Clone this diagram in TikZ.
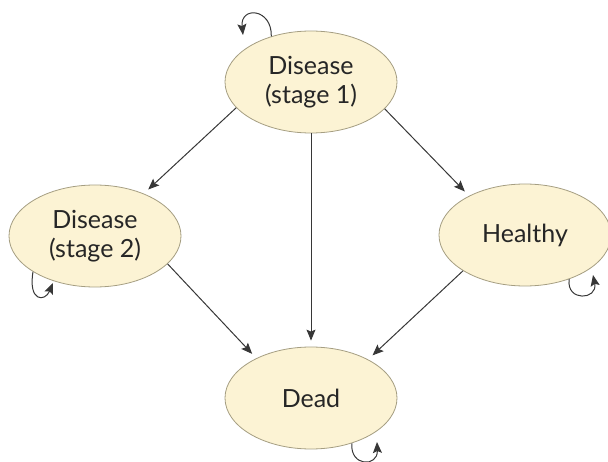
\documentclass[tikz,border=0pt]{standalone}
\usepackage{fontspec}
\setmainfont{Lato}
\usetikzlibrary{shapes.geometric,arrows.meta}
\definecolor{statefill}{RGB}{252,243,212}
\definecolor{stateline}{RGB}{165,158,130}
\definecolor{arrowgray}{RGB}{55,55,55}
\begin{document}
\begin{tikzpicture}[x=1pt,y=1pt,
    state/.style={ellipse,draw=stateline,fill=statefill,line width=0.8pt,
      minimum width=172pt,minimum height=102pt,inner sep=0pt,align=center,
      text=black!85,font=\fontsize{25}{29}\selectfont},
    trans/.style={draw=arrowgray,line width=1pt,
      -{Stealth[length=11pt,width=9pt,inset=2pt]},shorten >=6pt}]
\useasboundingbox (0,0) rectangle (608,461);
\node[state] (s1) at (311,379) {Disease\\(stage 1)};
\node[state] (s2) at (95,225) {Disease\\(stage 2)};
\node[state] (healthy) at (525,226) {Healthy};
\node[state] (dead) at (311,63) {Dead};
\foreach \a/\b in {s1.199/s2.41, s1.340/healthy.145, s2.339/dead.144, healthy.210/dead.34}
  \draw[trans] (\a) -- (\b);
\draw[trans] (s1) -- (dead);
% self loops
\coordinate (s1back) at (243,426);
\coordinate (s2back) at (53,178);
\coordinate (healthyback) at (593,186);
\coordinate (deadback) at (377,19);
\draw[trans,shorten >=0pt] (s1.131) .. controls (272,453) and (240,455) .. (s1back);
\draw[trans,shorten >=0pt] (s2.210) .. controls (28,159) and (45,159) .. (s2back);
\draw[trans,shorten >=0pt] (healthy.315) .. controls (566,159) and (598,161) .. (healthyback);
\draw[trans,shorten >=0pt] (dead.312) .. controls (350,-6) and (378,-6) .. (deadback);
\end{tikzpicture}
\end{document}
